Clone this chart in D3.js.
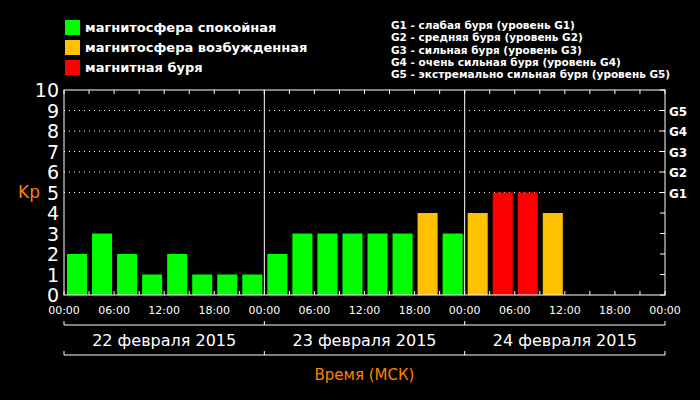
<!DOCTYPE html><html><head><meta charset="utf-8"><script src="https://cdn.jsdelivr.net/npm/d3@7"></script>
<style>body{margin:0;background:#000}</style></head><body><svg id="c" width="700" height="400"></svg><script>
const days=["22 февраля 2015","23 февраля 2015","24 февраля 2015"];
const kp=[2,3,2,1,2,1,1,1, 2,3,3,3,3,3,4,3, 4,5,5,4];
const hourLabels=["00:00","06:00","12:00","18:00"];
const gLabels=["G1","G2","G3","G4","G5"];
const legendItems=[["магнитосфера спокойная","#00ff00"],["магнитосфера возбужденная","#ffc000"],["магнитная буря","#ff0000"]];
const gLegend=["G1 - слабая буря (уровень G1)","G2 - средняя буря (уровень G2)","G3 - сильная буря (уровень G3)","G4 - очень сильная буря (уровень G4)","G5 - экстремально сильная буря (уровень G5)"];
const svg=d3.select("#c");
svg.append("rect").attr("width",700).attr("height",400).attr("fill","#000");
const L=64,R=665,T=90,B=295;
const x=d3.scaleLinear().domain([0,72]).range([L,R]);
const y=d3.scaleLinear().domain([0,10]).range([B,T]);
const F="DejaVu Sans";
// grid
[5,6,7,8,9].forEach(v=>svg.append("line").attr("x1",L).attr("x2",R).attr("y1",y(v)).attr("y2",y(v)).attr("stroke","#fff").attr("stroke-dasharray","1,4"));
const col=v=>v>=5?"#ff0000":v>=4?"#ffc000":"#00ff00";
svg.selectAll(".b").data(kp).join("rect").attr("x",(d,i)=>x(i*3)+3).attr("width",x(3)-x(0)-5)
 .attr("y",d=>y(d)).attr("height",d=>y(0)-y(d)).attr("fill",col);
// frame
svg.append("rect").attr("x",L).attr("y",T).attr("width",R-L).attr("height",B-T).attr("fill","none").attr("stroke","#fff");
[24,48].forEach(h=>svg.append("line").attr("x1",x(h)).attr("x2",x(h)).attr("y1",T).attr("y2",B).attr("stroke","#fff"));
d3.range(0,73,3).forEach(h=>{svg.append("line").attr("x1",x(h)).attr("x2",x(h)).attr("y1",T).attr("y2",T+4).attr("stroke","#fff");
 svg.append("line").attr("x1",x(h)).attr("x2",x(h)).attr("y1",B).attr("y2",B-4).attr("stroke","#fff");});
d3.range(0,11).forEach(v=>{svg.append("line").attr("x1",R).attr("x2",R-5).attr("y1",y(v)).attr("y2",y(v)).attr("stroke","#fff");
 svg.append("text").attr("x",59).attr("y",y(v)+7).attr("text-anchor","end").attr("fill","#fff").attr("font-family",F).attr("font-size",19).text(v);});
gLabels.forEach((g,i)=>svg.append("text").attr("x",669).attr("y",y(i+5)+5).attr("fill","#fff").attr("font-family",F).attr("font-weight","bold").attr("font-size",12).text(g));
svg.append("text").attr("x",18).attr("y",198).attr("fill","#ff8000").attr("font-family",F).attr("font-size",17).text("Kp");
d3.range(0,13).forEach(i=>svg.append("text").attr("x",x(i*6)).attr("y",314).attr("text-anchor","middle").attr("fill","#fff").attr("font-family",F).attr("font-size",11).text(hourLabels[i%4]));
[325,355].forEach(yy=>{svg.append("line").attr("x1",L).attr("x2",R).attr("y1",yy).attr("y2",yy).attr("stroke","#fff");
 [0,24,48,72].forEach(h=>svg.append("line").attr("x1",x(h)).attr("x2",x(h)).attr("y1",yy).attr("y2",yy-4).attr("stroke","#fff"));});
days.forEach((d,i)=>svg.append("text").attr("x",x(i*24+12)).attr("y",346).attr("text-anchor","middle").attr("fill","#fff").attr("font-family",F).attr("font-size",16).text(d));
svg.append("text").attr("x",x(36)).attr("y",380).attr("text-anchor","middle").attr("fill","#ff8000").attr("font-family",F).attr("font-size",15).text("Время (МСК)");
legendItems.forEach(([t,c],i)=>{svg.append("rect").attr("x",65).attr("y",20+i*20).attr("width",15).attr("height",15).attr("fill",c);
 svg.append("text").attr("x",85).attr("y",32+i*20).attr("fill","#fff").attr("font-family",F).attr("font-weight","bold").attr("font-size",13).text(t);});
gLegend.forEach((t,i)=>svg.append("text").attr("x",391).attr("y",29+i*12.3).attr("fill","#fff").attr("font-family",F).attr("font-weight","bold").attr("font-size",10.5).text(t));
</script></body></html>
